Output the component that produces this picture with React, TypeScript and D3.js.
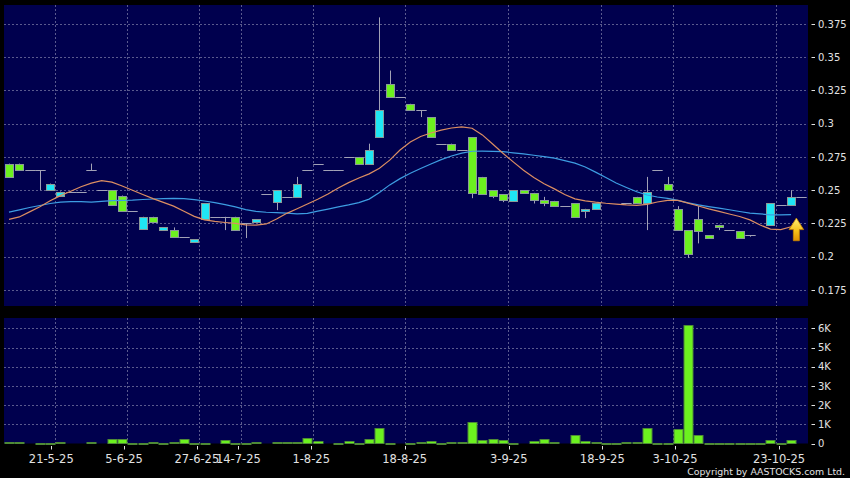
import React from "react";
import * as d3 from "d3";

// ---- Data ----
const opens: (number | null)[] = [
  0.270, 0.270, 0.265, 0.265, 0.250, 0.246, 0.249, 0.249, 0.265, 0.250,
  0.250, 0.246, 0.234, 0.221, 0.230, 0.220, 0.220, 0.215, 0.211, 0.228,
  0.230, 0.230, 0.230, 0.225, 0.226, 0.247, 0.241, 0.245, 0.245, 0.265,
  0.270, 0.265, 0.265, 0.275, 0.275, 0.270, 0.290, 0.330, 0.320, 0.315,
  0.310, 0.305, 0.285, 0.285, 0.280, 0.290, 0.260, 0.250, 0.247, 0.242,
  0.250, 0.248, 0.243, 0.242, 0.238, 0.240, 0.234, 0.236, null, null,
  0.240, 0.245, 0.240, 0.265, 0.255, 0.236, 0.220, 0.228, 0.216, 0.224,
  0.220, 0.219, 0.216, null, 0.224, 0.239, 0.239, 0.245,
];
const highs: (number | null)[] = [
  0.270, 0.270, 0.265, 0.265, 0.255, 0.249, 0.249, 0.249, 0.270, 0.250,
  0.250, 0.246, 0.234, 0.230, 0.230, 0.222, 0.222, 0.215, 0.213, 0.240,
  0.230, 0.230, 0.230, 0.225, 0.228, 0.247, 0.250, 0.245, 0.260, 0.265,
  0.270, 0.265, 0.265, 0.275, 0.275, 0.285, 0.380, 0.340, 0.320, 0.315,
  0.310, 0.305, 0.285, 0.285, 0.280, 0.290, 0.260, 0.250, 0.247, 0.250,
  0.250, 0.248, 0.245, 0.242, 0.238, 0.240, 0.236, 0.240, null, null,
  0.240, 0.245, 0.260, 0.265, 0.260, 0.238, 0.220, 0.238, 0.216, 0.224,
  0.220, 0.219, 0.216, null, 0.240, 0.239, 0.250, 0.245,
];
const lows: (number | null)[] = [
  0.260, 0.265, 0.265, 0.250, 0.250, 0.246, 0.249, 0.249, 0.265, 0.250,
  0.239, 0.234, 0.234, 0.221, 0.226, 0.220, 0.215, 0.215, 0.211, 0.228,
  0.230, 0.220, 0.220, 0.214, 0.226, 0.247, 0.235, 0.245, 0.245, 0.265,
  0.270, 0.265, 0.265, 0.275, 0.270, 0.270, 0.290, 0.320, 0.320, 0.310,
  0.305, 0.290, 0.285, 0.280, 0.280, 0.244, 0.247, 0.244, 0.241, 0.242,
  0.248, 0.240, 0.238, 0.238, 0.238, 0.230, 0.229, 0.236, null, null,
  0.240, 0.240, 0.220, 0.265, 0.250, 0.220, 0.199, 0.210, 0.214, 0.220,
  0.220, 0.214, 0.215, null, 0.224, 0.239, 0.239, 0.245,
];
const closes: (number | null)[] = [
  0.260, 0.265, 0.265, 0.265, 0.255, 0.249, 0.249, 0.249, 0.265, 0.250,
  0.239, 0.234, 0.234, 0.230, 0.226, 0.222, 0.215, 0.215, 0.213, 0.240,
  0.230, 0.230, 0.220, 0.225, 0.228, 0.247, 0.250, 0.245, 0.255, 0.265,
  0.270, 0.265, 0.265, 0.275, 0.270, 0.280, 0.310, 0.320, 0.320, 0.310,
  0.310, 0.290, 0.285, 0.280, 0.280, 0.248, 0.247, 0.246, 0.243, 0.250,
  0.248, 0.243, 0.240, 0.238, 0.238, 0.230, 0.236, 0.240, null, null,
  0.240, 0.240, 0.249, 0.265, 0.250, 0.220, 0.202, 0.219, 0.214, 0.222,
  0.220, 0.214, 0.216, null, 0.240, 0.239, 0.245, 0.245,
];
const volumes: number[] = [
  70, 70, 0, 40, 10, 70, 0, 0, 60, 0,
  260, 230, 20, 15, 60, 10, 60, 250, 10, 15,
  0, 160, 20, 20, 60, 0, 90, 60, 100, 290,
  110, 0, 30, 150, 30, 210, 790, 30, 0, 30,
  80, 140, 50, 100, 100, 1140, 175, 210, 190, 50,
  0, 140, 230, 60, 0, 420, 120, 90, 30, 20,
  100, 60, 800, 40, 20, 750, 6200, 440, 15, 15,
  40, 50, 15, 40, 175, 15, 200, 0,
];
const maShort: (number | null)[] = [
  0.2280, 0.2299, 0.2337, 0.2375, 0.2420, 0.2459, 0.2492, 0.2526, 0.2553, 0.2572,
  0.2561, 0.2532, 0.2500, 0.2468, 0.2437, 0.2408, 0.2380, 0.2341, 0.2303, 0.2277,
  0.2265, 0.2257, 0.2250, 0.2239, 0.2238, 0.2246, 0.2283, 0.2326, 0.2360, 0.2396,
  0.2432, 0.2471, 0.2517, 0.2557, 0.2592, 0.2623, 0.2665, 0.2726, 0.2802, 0.2862,
  0.2904, 0.2930, 0.2952, 0.2968, 0.2977, 0.2966, 0.2916, 0.2847, 0.2778, 0.2713,
  0.2650, 0.2596, 0.2549, 0.2510, 0.2468, 0.2435, 0.2420, 0.2410, 0.2402, 0.2396,
  0.2389, 0.2386, 0.2394, 0.2411, 0.2424, 0.2423, 0.2403, 0.2381, 0.2360, 0.2341,
  0.2321, 0.2302, 0.2277, 0.2238, 0.2207, 0.2203, 0.2225, null,
];
const maLong: (number | null)[] = [
  0.2335, 0.2352, 0.2370, 0.2385, 0.2400, 0.2411, 0.2414, 0.2414, 0.2411, 0.2416,
  0.2422, 0.2424, 0.2426, 0.2430, 0.2434, 0.2437, 0.2439, 0.2436, 0.2429, 0.2419,
  0.2406, 0.2391, 0.2374, 0.2354, 0.2341, 0.2334, 0.2332, 0.2327, 0.2322, 0.2326,
  0.2342, 0.2358, 0.2374, 0.2389, 0.2407, 0.2433, 0.2483, 0.2540, 0.2587, 0.2627,
  0.2663, 0.2697, 0.2730, 0.2757, 0.2779, 0.2793, 0.2794, 0.2792, 0.2790, 0.2781,
  0.2773, 0.2763, 0.2753, 0.2741, 0.2723, 0.2704, 0.2675, 0.2636, 0.2595, 0.2554,
  0.2520, 0.2488, 0.2464, 0.2449, 0.2438, 0.2423, 0.2405, 0.2390, 0.2377, 0.2365,
  0.2353, 0.2340, 0.2328, 0.2322, 0.2315, 0.2315, 0.2317, null,
];
const priceTicks = [0.175, 0.2, 0.225, 0.25, 0.275, 0.3, 0.325, 0.35, 0.375];
const volTicks = [0, 1000, 2000, 3000, 4000, 5000, 6000];
const volTickLabels = ["0", "1K", "2K", "3K", "4K", "5K", "6K"];
const dateLabels = ["21-5-25", "5-6-25", "27-6-25", "14-7-25", "1-8-25", "18-8-25", "3-9-25", "18-9-25", "3-10-25", "23-10-25"];
const dateGridPos = [4.5, 11.5, 18.5, 22.5, 29.5, 38.5, 48.5, 57.5, 64.5, 74.5];
const arrowTip = 0.229;
const arrowBase = 0.212;

// ---- Style ----
const BG = "#000000";
const PANEL = "#00004e";
const GRID = "#5a5a8e";
const UP = "#1fe6f4";
const DOWN = "#6cf11f";
const BODY_STROKE = "#8a9a98";
const WICK = "#a2a2b6";
const TEXT = "#e2e2e2";
const FONT = "DejaVu Sans, Verdana, sans-serif";

export default function App() {
  const W = 850;
  const H = 478;
  const n = closes.length;
  const left = 4, right = 808;
  const mainTop = 5, mainBottom = 306;
  const volTop = 318, volBottom = 443.5;

  const x = d3.scaleLinear().domain([-0.5, n - 0.5]).range([3.85, 806.5]);
  const xLab = d3.scaleLinear().domain([0, n - 1]).range([4.5, 805]);
  const y = d3.scaleLinear().domain([0.1629, 0.3893]).range([mainBottom, mainTop]);
  const yv = d3.scaleLinear().domain([0, 6540]).range([volBottom, volTop]);

  const line = d3
    .line<number | null>()
    .defined((d) => d != null)
    .x((_, i) => x(i))
    .y((d) => y(d as number));

  const arrowX = x(n - 1) - 5;
  const at = y(arrowTip), ab = y(arrowBase);
  const arrowPath = `M${arrowX},${at} L${arrowX + 7.3},${at + 11.5} L${arrowX + 3},${at + 11.5} L${arrowX + 3},${ab} L${arrowX - 3},${ab} L${arrowX - 3},${at + 11.5} L${arrowX - 7.3},${at + 11.5} Z`;

  return (
    <div style={{ position: "fixed", left: 0, top: 0, width: W, height: H, background: BG }}>
      <svg width={W} height={H} style={{ display: "block" }} fontFamily={FONT}>
        <defs>
          <clipPath id="mainClip">
            <rect x={left} y={mainTop} width={right - left} height={mainBottom - mainTop} />
          </clipPath>
          <linearGradient id="arrowGrad" x1="0" y1="0" x2="0" y2="1">
            <stop offset="0%" stopColor="#fff27a" />
            <stop offset="55%" stopColor="#f6c21a" />
            <stop offset="100%" stopColor="#e09000" />
          </linearGradient>
        </defs>
        <rect x={0} y={0} width={W} height={H} fill={BG} />
        {/* panels */}
        <rect x={left} y={mainTop} width={right - left} height={mainBottom - mainTop} fill={PANEL} />
        <rect x={left} y={volTop} width={right - left} height={volBottom - volTop} fill={PANEL} />

        {/* main grid */}
        {priceTicks.map((t) => (
          <line key={"hg" + t} x1={left} x2={right} y1={Math.round(y(t)) + 0.5} y2={Math.round(y(t)) + 0.5} stroke={GRID} strokeDasharray="2,2" />
        ))}
        {dateGridPos.map((g) => (
          <g key={"vg" + g}>
            <line x1={Math.round(x(g)) + 0.5} x2={Math.round(x(g)) + 0.5} y1={mainTop} y2={mainBottom} stroke={GRID} strokeDasharray="2,2" />
            <line x1={Math.round(x(g)) + 0.5} x2={Math.round(x(g)) + 0.5} y1={volTop} y2={volBottom} stroke={GRID} strokeDasharray="2,2" />
          </g>
        ))}
        {volTicks.slice(1).map((t) => (
          <line key={"vh" + t} x1={left} x2={right} y1={Math.round(yv(t)) + 0.5} y2={Math.round(yv(t)) + 0.5} stroke={GRID} strokeDasharray="2,2" />
        ))}

        {/* candles */}
        <g clipPath="url(#mainClip)">
          {closes.map((c, i) => {
            const o = opens[i], h = highs[i], l = lows[i];
            if (c == null || o == null || h == null || l == null) return null;
            const cx = Math.round(x(i)) + 0.5;
            const wick = h > l ? (
              <line x1={cx} x2={cx} y1={y(h)} y2={y(l)} stroke={WICK} strokeWidth={1} />
            ) : null;
            if (o === c) {
              const yy = Math.round(y(c)) + 0.5;
              return (
                <g key={"c" + i}>
                  {wick}
                  <line x1={cx - 5.2} x2={cx + 5.2} y1={yy} y2={yy} stroke={WICK} strokeWidth={1} />
                </g>
              );
            }
            const top = Math.round(y(Math.max(o, c))) + 0.5;
            const bot = Math.round(y(Math.min(o, c))) + 0.5;
            return (
              <g key={"c" + i}>
                {wick}
                <rect x={cx - 4} y={top} width={8} height={Math.max(1, bot - top)} fill={c > o ? UP : DOWN} stroke={BODY_STROKE} strokeWidth={1} />
              </g>
            );
          })}
          <path d={line(maLong) || ""} fill="none" stroke="#3d9de2" strokeWidth={1.2} />
          <path d={line(maShort) || ""} fill="none" stroke="#dc8e62" strokeWidth={1.2} />
        </g>

        {/* arrow */}
        <path d={arrowPath} fill="url(#arrowGrad)" stroke="#c98400" strokeWidth={0.8} />

        {/* volume bars */}
        {volumes.map((v, i) => {
          if (!v) return null;
          const cx = Math.round(x(i)) + 0.5;
          const top = Math.round(yv(v)) + 0.5;
          const h = Math.max(1, volBottom - top);
          return <rect key={"v" + i} x={cx - 4.5} y={top} width={9} height={h} fill={DOWN} stroke="#4e8a36" strokeWidth={1} />;
        })}

        {/* price axis */}
        {priceTicks.map((t) => (
          <g key={"pt" + t}>
            <line x1={811.5} x2={815} y1={Math.round(y(t)) + 0.5} y2={Math.round(y(t)) + 0.5} stroke={TEXT} />
            <text x={818} y={y(t)} dy="0.36em" fontSize={10} fill={TEXT}>
              {String(t)}
            </text>
          </g>
        ))}
        {/* volume axis */}
        {volTicks.map((t, k) => (
          <g key={"vt" + t}>
            <line x1={811.5} x2={815} y1={Math.round(yv(t)) + 0.5} y2={Math.round(yv(t)) + 0.5} stroke={TEXT} />
            <text x={818} y={yv(t)} dy="0.36em" fontSize={10} fill={TEXT}>
              {volTickLabels[k]}
            </text>
          </g>
        ))}
        {/* date axis */}
        {dateGridPos.map((g, k) => (
          <g key={"dl" + g}>
            <line x1={Math.round(xLab(g)) + 0.5} x2={Math.round(xLab(g)) + 0.5} y1={446} y2={449.5} stroke={TEXT} />
            <text x={xLab(g)} y={462.5} fontSize={11.5} fill={TEXT} textAnchor="middle">
              {dateLabels[k]}
            </text>
          </g>
        ))}
        <text x={845} y={475} fontSize={9.4} fill={TEXT} textAnchor="end">
          Copyright by AASTOCKS.com Ltd.
        </text>
      </svg>
    </div>
  );
}
